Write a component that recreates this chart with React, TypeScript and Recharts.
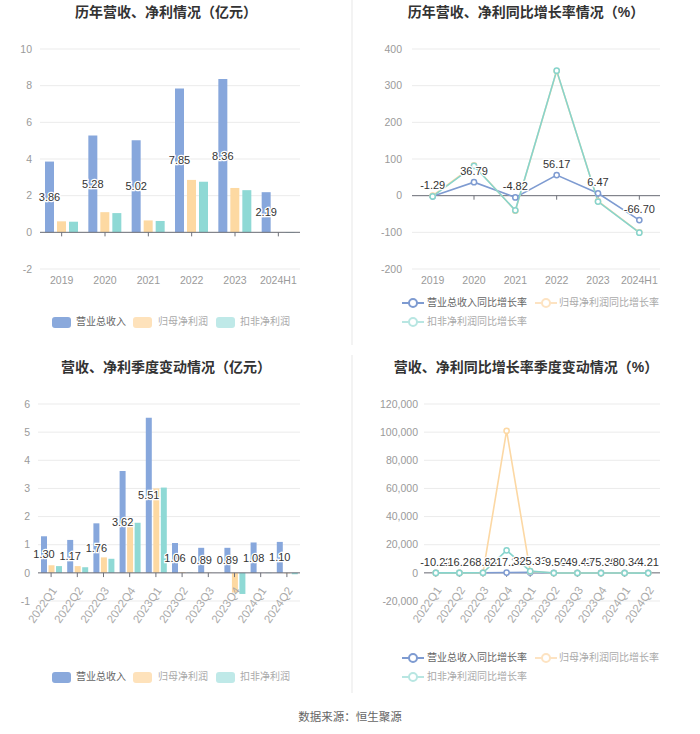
import React from 'react';
import { BarChart, Bar, LineChart, Line, XAxis, YAxis, CartesianGrid, ReferenceLine, LabelList } from 'recharts';

// ---------- data ----------
const annualCats = ['2019', '2020', '2021', '2022', '2023', '2024H1'];
const annualRevenue = [3.86, 5.28, 5.02, 7.85, 8.36, 2.19];
const annualNetProfit = [0.6, 1.1, 0.65, 2.86, 2.42, 0.01];
const annualDeductedProfit = [0.58, 1.05, 0.62, 2.76, 2.3, -0.03];
const annualYTicks = [-2, 0, 2, 4, 6, 8, 10];

const annualRevenueGrowth = [-1.29, 36.79, -4.82, 56.17, 6.47, -66.7];
const annualNetGrowth = [0, 83, -41, 340, -15, -100];
const annualDeductedGrowth = [-2, 81, -40, 341, -16, -101];
const annualGrowthTicks = [-200, -100, 0, 100, 200, 300, 400];

const quarterCats = ['2022Q1', '2022Q2', '2022Q3', '2022Q4', '2023Q1', '2023Q2', '2023Q3', '2023Q4', '2024Q1', '2024Q2'];
const quarterRevenue = [1.3, 1.17, 1.76, 3.62, 5.51, 1.06, 0.89, 0.89, 1.08, 1.1];
const quarterNetProfit = [0.27, 0.24, 0.55, 1.8, 3.0, 0.03, 0.01, -0.7, 0.0, -0.02];
const quarterDeductedProfit = [0.24, 0.2, 0.5, 1.78, 3.03, 0.01, 0.0, -0.75, -0.01, -0.05];
const quarterYTicks = [-1, 0, 1, 2, 3, 4, 5, 6];

const quarterRevenueGrowth = [-10.22, -16.26, 68.83, 217.23, 325.33, -9.5, -49.42, -75.3, -80.34, 4.21];
const quarterNetGrowth = [-20, -35, 90, 101000, 1000, -90, -98, -140, -100, -170];
const quarterDeductedGrowth = [-25, -40, 85, 16000, 1200, -100, -99, -142, -100, -190];
const quarterGrowthTicks = [-20000, 0, 20000, 40000, 60000, 80000, 100000, 120000];

const seriesNames = ['营业总收入', '归母净利润', '扣非净利润'];
const growthNames = ['营业总收入同比增长率', '归母净利润同比增长率', '扣非净利润同比增长率'];

// ---------- styling ----------
const C_REV = '#87a7dc';
const C_NET = '#fdd9a2';
const C_DED = '#8fd9d5';
const L_REV = '#7e9bd1';
const L_NET = '#fcd8a4';
const L_DED = '#86d4cd';
const AXIS = '#6e7079';
const GRID = '#ebebeb';
const TICK = { fill: '#9a9a9a', fontSize: 10.5 };
const FONT = '"Liberation Sans", "Noto Sans CJK SC", sans-serif';

const annualBarData = annualCats.map((c, i) => ({ cat: c, rev: annualRevenue[i], net: annualNetProfit[i], ded: annualDeductedProfit[i] }));
const annualLineData = annualCats.map((c, i) => ({ cat: c, rev: annualRevenueGrowth[i], net: annualNetGrowth[i], ded: annualDeductedGrowth[i] }));
const quarterBarData = quarterCats.map((c, i) => ({ cat: c, rev: quarterRevenue[i], net: quarterNetProfit[i], ded: quarterDeductedProfit[i] }));
const quarterLineData = quarterCats.map((c, i) => ({ cat: c, rev: quarterRevenueGrowth[i], net: quarterNetGrowth[i], ded: quarterDeductedGrowth[i] }));

const fmt2 = (v: any) => Number(v).toFixed(2);
const fmtThousands = (v: number) => v.toLocaleString('en-US');

const labelProps = {
  fill: '#333',
  fontSize: 11,
  stroke: '#fff',
  strokeWidth: 2.5,
  paintOrder: 'stroke',
  formatter: fmt2,
} as any;

const RotLabel = (text: string) => (props: any) => {
  const vb = props.viewBox || {};
  const x = (vb.x || 0) + 3;
  const y = (vb.y || 0) + (vb.height || 0) + 11;
  return (
    <text x={x} y={y} transform={`rotate(-55, ${x}, ${y})`} textAnchor="end" dy="0.35em" fill="#aaa" fontSize={11.5}>
      {text}
    </text>
  );
};

const zeroTicks = (cats: string[], len: number, rotated: boolean) =>
  cats.map((c) => (
    <ReferenceLine
      key={'t' + c}
      segment={[{ x: c, y: 0 }, { x: c, y: -len }]}
      stroke={AXIS}
      ifOverflow="visible"
      label={rotated ? RotLabel(c) : undefined}
    />
  ));

const Dot = (color: string) => ({ r: 2.6, stroke: color, strokeWidth: 1.5, fill: '#fff' });

const BarLegend = ({ top }: { top: number }) => {
  const items = [
    { name: seriesNames[0], color: '#8aa9dc', text: '#666', x: 52, tx: 76 },
    { name: seriesNames[1], color: '#fee2bb', text: '#aaa', x: 133, tx: 158 },
    { name: seriesNames[2], color: '#bfe9e8', text: '#aaa', x: 216, tx: 240 },
  ];
  return (
    <>
      {items.map((it) => (
        <React.Fragment key={it.name}>
          <div style={{ position: 'absolute', left: it.x, top: top - 5.5, width: 19, height: 11, borderRadius: 3, background: it.color }} />
          <div style={{ position: 'absolute', left: it.tx, top: top - 8, fontSize: 10, lineHeight: '16px', color: it.text, whiteSpace: 'nowrap' }}>{it.name}</div>
        </React.Fragment>
      ))}
    </>
  );
};

const LineIcon = ({ color }: { color: string }) => (
  <svg width={22} height={12} style={{ display: 'block' }}>
    <line x1={0} y1={6} x2={22} y2={6} stroke={color} strokeWidth={2} />
    <circle cx={11} cy={6} r={4} stroke={color} strokeWidth={2} fill="#fff" />
  </svg>
);

const LineLegend = ({ top }: { top: number }) => {
  const items = [
    { name: growthNames[0], color: L_REV, text: '#666', x: 402, tx: 427, y: top },
    { name: growthNames[1], color: '#fde3c2', text: '#aaa', x: 535, tx: 559, y: top },
    { name: growthNames[2], color: '#b8e6e2', text: '#aaa', x: 402, tx: 427, y: top + 19 },
  ];
  return (
    <>
      {items.map((it) => (
        <React.Fragment key={it.name}>
          <div style={{ position: 'absolute', left: it.x, top: it.y - 6 }}>
            <LineIcon color={it.color} />
          </div>
          <div style={{ position: 'absolute', left: it.tx, top: it.y - 8, fontSize: 10, lineHeight: '16px', color: it.text, whiteSpace: 'nowrap' }}>{it.name}</div>
        </React.Fragment>
      ))}
    </>
  );
};

const Title = ({ text, cx, cy }: { text: string; cx: number; cy: number }) => (
  <div style={{ position: 'absolute', left: cx - 170, top: cy - 10, width: 340, textAlign: 'center', fontSize: 14, fontWeight: 700, color: '#333', lineHeight: '20px' }}>{text}</div>
);

export default function App() {
  return (
    <div style={{ position: 'absolute', left: 0, top: 0, width: 700, height: 734, background: '#fff', fontFamily: FONT, overflow: 'hidden' }}>
      {/* dividers */}
      <div style={{ position: 'absolute', left: 351, top: 0, width: 1.5, height: 345, background: '#f3f3f3' }} />
      <div style={{ position: 'absolute', left: 351, top: 355, width: 1.5, height: 338, background: '#f3f3f3' }} />

      <Title text="历年营收、净利情况（亿元）" cx={166} cy={12} />
      <Title text="历年营收、净利同比增长率情况（%）" cx={526} cy={12} />
      <Title text="营收、净利季度变动情况（亿元）" cx={166} cy={367} />
      <Title text="营收、净利同比增长率季度变动情况（%）" cx={526} cy={367} />

      {/* top-left */}
      <div style={{ position: 'absolute', left: 0, top: 0 }}>
        <BarChart width={350} height={299} data={annualBarData} margin={{ top: 49, right: 50, bottom: 0, left: 0 }} barSize={9} barGap={3}>
          <CartesianGrid vertical={false} stroke={GRID} />
          <XAxis dataKey="cat" axisLine={false} tickLine={false} tick={TICK} height={30} interval={0} />
          <YAxis domain={[-2, 10]} ticks={annualYTicks} axisLine={false} tickLine={false} width={40} tickMargin={2} tick={TICK} interval={0} />
          <Bar dataKey="rev" fill={C_REV} isAnimationActive={false}>
            <LabelList dataKey="rev" position="center" {...labelProps} />
          </Bar>
          <Bar dataKey="net" fill={C_NET} isAnimationActive={false} />
          <Bar dataKey="ded" fill={C_DED} isAnimationActive={false} />
          <ReferenceLine y={0} stroke={AXIS} />
          {zeroTicks(annualCats, 0.22, false)}
        </BarChart>
      </div>
      <BarLegend top={322} />

      {/* top-right */}
      <div style={{ position: 'absolute', left: 350, top: 0 }}>
        <LineChart width={350} height={299} data={annualLineData} margin={{ top: 49, right: 40, bottom: 0, left: 0 }}>
          <CartesianGrid vertical={false} stroke={GRID} />
          <XAxis dataKey="cat" scale="band" axisLine={false} tickLine={false} tick={TICK} height={30} interval={0} />
          <YAxis domain={[-200, 400]} ticks={annualGrowthTicks} axisLine={false} tickLine={false} width={62} tickMargin={4} tick={TICK} interval={0} />
          <ReferenceLine y={0} stroke={AXIS} />
          {zeroTicks(annualCats, 11, false)}
          <Line dataKey="rev" stroke={L_REV} strokeWidth={1.6} dot={Dot(L_REV)} isAnimationActive={false} />
          <Line dataKey="net" stroke={L_NET} strokeWidth={1.6} dot={Dot(L_NET)} isAnimationActive={false} />
          <Line dataKey="ded" stroke={L_DED} strokeWidth={1.6} dot={Dot(L_DED)} isAnimationActive={false} />
          <Line dataKey="rev" stroke="none" dot={false} activeDot={false} legendType="none" isAnimationActive={false}>
            <LabelList dataKey="rev" position="top" offset={7} {...labelProps} />
          </Line>
        </LineChart>
      </div>
      <LineLegend top={303} />

      {/* bottom-left */}
      <div style={{ position: 'absolute', left: 0, top: 350 }}>
        <BarChart width={350} height={300} data={quarterBarData} margin={{ top: 54, right: 50, bottom: 49, left: 0 }} barSize={6} barGap={1.5}>
          <CartesianGrid vertical={false} stroke={GRID} />
          <XAxis dataKey="cat" hide />
          <YAxis domain={[-1, 6]} ticks={quarterYTicks} axisLine={false} tickLine={false} width={38} tickMargin={2} tick={TICK} interval={0} />
          <Bar dataKey="rev" fill={C_REV} isAnimationActive={false}>
            <LabelList dataKey="rev" position="center" {...labelProps} />
          </Bar>
          <Bar dataKey="net" fill={C_NET} isAnimationActive={false} />
          <Bar dataKey="ded" fill={C_DED} isAnimationActive={false} />
          <ReferenceLine y={0} stroke={AXIS} />
          {zeroTicks(quarterCats, 0.15, true)}
        </BarChart>
      </div>
      <BarLegend top={677} />

      {/* bottom-right */}
      <div style={{ position: 'absolute', left: 350, top: 350 }}>
        <LineChart width={350} height={300} data={quarterLineData} margin={{ top: 54, right: 40, bottom: 49, left: 0 }}>
          <CartesianGrid vertical={false} stroke={GRID} />
          <XAxis dataKey="cat" scale="band" hide />
          <YAxis domain={[-20000, 120000]} ticks={quarterGrowthTicks} tickFormatter={fmtThousands} axisLine={false} tickLine={false} width={74} tickMargin={0} tick={TICK} interval={0} />
          <ReferenceLine y={0} stroke={AXIS} />
          {zeroTicks(quarterCats, 2800, true)}
          <Line dataKey="rev" stroke={L_REV} strokeWidth={1.6} dot={Dot(L_REV)} isAnimationActive={false} />
          <Line dataKey="net" stroke={L_NET} strokeWidth={1.6} dot={Dot(L_NET)} isAnimationActive={false} />
          <Line dataKey="ded" stroke={L_DED} strokeWidth={1.6} dot={Dot(L_DED)} isAnimationActive={false} />
          <Line dataKey="rev" stroke="none" dot={false} activeDot={false} legendType="none" isAnimationActive={false}>
            <LabelList dataKey="rev" position="top" offset={7} {...labelProps} />
          </Line>
        </LineChart>
      </div>
      <LineLegend top={658} />

      <div style={{ position: 'absolute', left: 0, top: 709, width: 700, textAlign: 'center', fontSize: 11.5, color: '#666', lineHeight: '16px' }}>数据来源：恒生聚源</div>
    </div>
  );
}
